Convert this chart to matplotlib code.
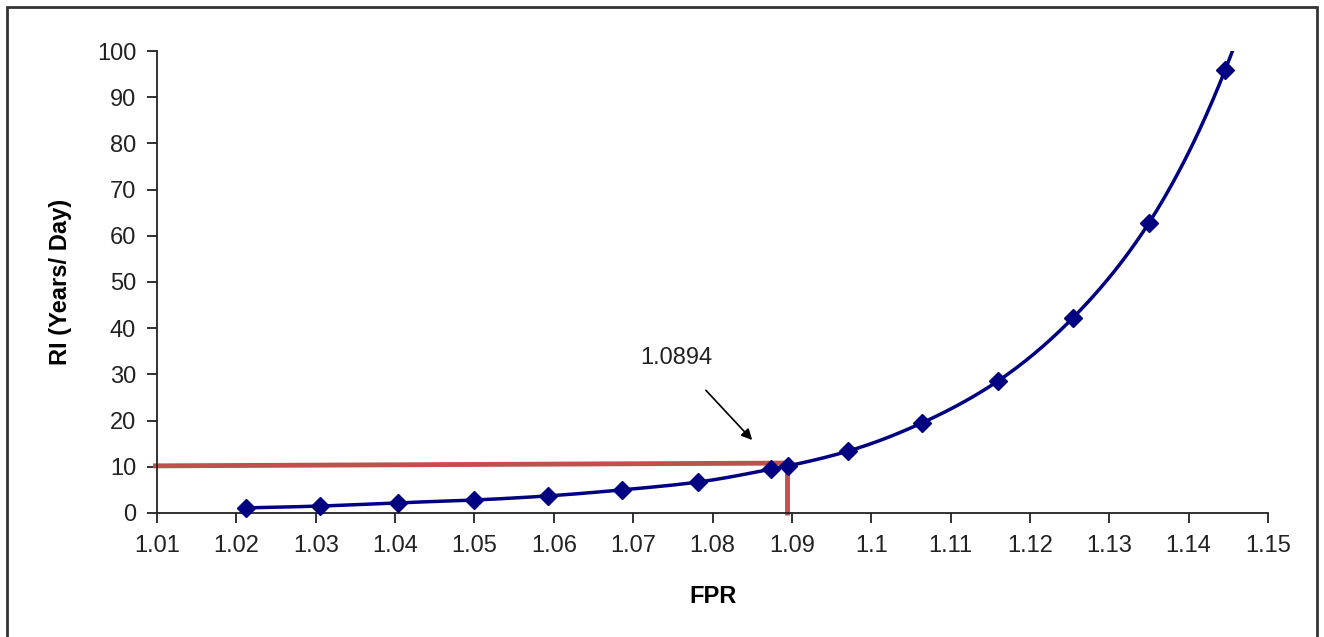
import numpy as np
import matplotlib.pyplot as plt
from matplotlib.patches import Rectangle

# data
fpr = [1.0212, 1.0305, 1.0404, 1.0499, 1.0593, 1.0686, 1.0782, 1.0874,
       1.0895, 1.0971, 1.1064, 1.1160, 1.1254, 1.1350, 1.1446]
ri = [1.1, 1.5, 2.2, 2.8, 3.7, 5.0, 6.7, 9.5,
      10.2, 13.4, 19.5, 28.6, 42.2, 62.8, 95.9]
# next point lies above the plotted range (line leaves through the top)
fpr_out = [1.1542]
ri_out = [150.0]

marked_fpr = 1.0894
marked_ri = [10.2, 10.8]

plt.rcParams['font.family'] = ['Liberation Sans', 'DejaVu Sans']

fig = plt.figure(figsize=(13.24, 6.37), dpi=100)
ax = fig.add_axes([0.1186, 0.1947, 0.8391, 0.7252])

# smoothed line through the points (hermite on log values)
xs = np.array(fpr + fpr_out)
ys = np.log(np.array(ri + ri_out))
xx = np.linspace(xs[0], xs[-1], 600)
def smooth(x, y, xq):
    out = np.empty_like(xq)
    n = len(x)
    m = np.gradient(y, x)
    for i, q in enumerate(xq):
        k = np.searchsorted(x, q) - 1
        k = min(max(k, 0), n - 2)
        h = x[k + 1] - x[k]
        t = (q - x[k]) / h
        h00 = 2 * t**3 - 3 * t**2 + 1
        h10 = t**3 - 2 * t**2 + t
        h01 = -2 * t**3 + 3 * t**2
        h11 = t**3 - t**2
        out[i] = h00 * y[k] + h10 * h * m[k] + h01 * y[k + 1] + h11 * h * m[k + 1]
    return out
yy = np.exp(smooth(xs, ys, xx))
ax.plot(xx, yy, color='#000080', lw=2.5, zorder=3, clip_on=True)
ax.plot(fpr, ri, linestyle='none', marker='D', markersize=9,
        color='#000080', zorder=4, clip_on=False)

# red reference lines
ax.plot([1.0095, marked_fpr], [marked_ri[0], marked_ri[1]], color='#C0504D',
        lw=3.5, zorder=2, clip_on=False, solid_capstyle='butt')
ax.plot([marked_fpr, marked_fpr], [marked_ri[1], -0.5], color='#C0504D',
        lw=3.5, zorder=2, clip_on=False, solid_capstyle='butt')

ax.annotate('1.0894', xy=(1.0850, 15.8), xytext=(1.0754, 33.5),
            ha='center', va='center', fontsize=17, color='#222222',
            arrowprops=dict(arrowstyle='-|>', color='black', lw=1.2,
                            mutation_scale=16, shrinkA=18, shrinkB=0))

ax.set_xlim(1.01, 1.15)
ax.set_ylim(0, 100)
ax.set_xticks(np.round(np.arange(1.01, 1.1501, 0.01), 2))
ax.set_xticklabels(['1.01', '1.02', '1.03', '1.04', '1.05', '1.06', '1.07', '1.08',
                    '1.09', '1.1', '1.11', '1.12', '1.13', '1.14', '1.15'])
ax.set_yticks(range(0, 101, 10))
ax.tick_params(labelsize=17, length=7, width=1.3, colors='#222222')
ax.tick_params(axis='x', pad=9)
ax.tick_params(axis='y', pad=8)
for s in ['top', 'right']:
    ax.spines[s].set_visible(False)
for s in ['left', 'bottom']:
    ax.spines[s].set_linewidth(1.3)
    ax.spines[s].set_color('#222222')

ax.set_xlabel('FPR', fontsize=17, fontweight='bold', labelpad=20)
ax.set_ylabel('RI (Years/ Day)', fontsize=17, fontweight='bold', labelpad=18)

# outer frame
fig.patches.append(Rectangle((7 / 1324, -0.05), 1310 / 1324, 1.05 - 7 / 637,
                             transform=fig.transFigure, fill=False,
                             edgecolor='#333333', lw=2))

fig.savefig('out.png', dpi=100)
